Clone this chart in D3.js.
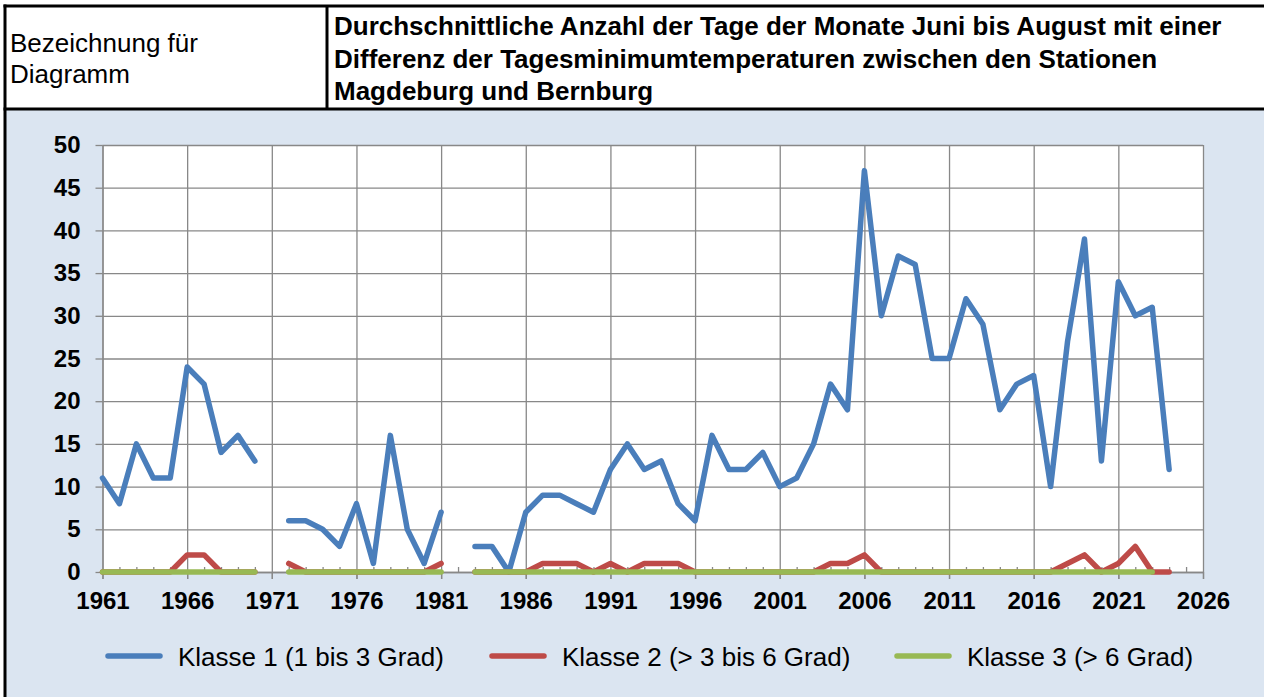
<!DOCTYPE html>
<html><head><meta charset="utf-8">
<script src="https://cdn.jsdelivr.net/npm/d3@7"></script>
<style>
body{margin:0;background:#fff;overflow:hidden}
svg{display:block;font-family:"Liberation Sans",Arial,sans-serif}
</style>
</head><body><svg id="c" width="1264" height="697"></svg>
<script>
const years = [1961,1962,1963,1964,1965,1966,1967,1968,1969,1970,
  1971,1972,1973,1974,1975,1976,1977,1978,1979,1980,
  1981,1982,1983,1984,1985,1986,1987,1988,1989,1990,
  1991,1992,1993,1994,1995,1996,1997,1998,1999,2000,
  2001,2002,2003,2004,2005,2006,2007,2008,2009,2010,
  2011,2012,2013,2014,2015,2016,2017,2018,2019,2020,
  2021,2022,2023,2024];
const klasse1 = [11,8,15,11,11,24,22,14,16,13,
  null,6,6,5,3,8,1,16,5,1,
  7,null,3,3,0,7,9,9,8,7,
  12,15,12,13,8,6,16,12,12,14,
  10,11,15,22,19,47,30,37,36,25,
  25,32,29,19,22,23,10,27,39,13,
  34,30,31,12];
const klasse2 = [0,0,0,0,0,2,2,0,0,0,
  null,1,0,0,0,0,0,0,0,0,
  1,null,0,0,0,0,1,1,1,0,
  1,0,1,1,1,0,0,0,0,0,
  0,0,0,1,1,2,0,0,0,0,
  0,0,0,0,0,0,0,1,2,0,
  1,3,0,0];
const klasse3 = [0,0,0,0,0,0,0,0,0,0,
  null,0,0,0,0,0,0,0,0,0,
  0,null,0,0,0,0,0,0,0,0,
  0,0,0,0,0,0,0,0,0,0,
  0,0,0,0,0,0,0,0,0,0,
  0,0,0,0,0,0,0,0,0,0,
  0,0,0,null];
const xTickValues = [1961,1966,1971,1976,1981,1986,1991,1996,2001,2006,2011,2016,2021,2026];
const yTickValues = [0,5,10,15,20,25,30,35,40,45,50];
const seriesNames = ["Klasse 1 (1 bis 3 Grad)","Klasse 2 (> 3 bis 6 Grad)","Klasse 3 (> 6 Grad)"];
const seriesColors = ["#4a7ebb","#be4b48","#98b954"];
const headerLabel = ["Bezeichnung für","Diagramm"];
const titleLines = ["Durchschnittliche Anzahl der Tage der Monate Juni bis August mit einer",
  "Differenz der Tagesminimumtemperaturen zwischen den Stationen",
  "Magdeburg und Bernburg"];

const svg = d3.select("#c");
const W = 1264, H = 697;

// backgrounds
svg.append("rect").attr("x",0).attr("y",0).attr("width",W).attr("height",H).attr("fill","#fff");
svg.append("rect").attr("x",5).attr("y",109).attr("width",W-5).attr("height",H-109).attr("fill","#dbe5f1");

// header borders
const bc = "#000";
svg.append("line").attr("x1",3.5).attr("x2",W).attr("y1",6).attr("y2",6).attr("stroke",bc).attr("stroke-width",3);
svg.append("line").attr("x1",5).attr("x2",5).attr("y1",4.5).attr("y2",H).attr("stroke",bc).attr("stroke-width",3);
svg.append("line").attr("x1",3.5).attr("x2",W).attr("y1",109).attr("y2",109).attr("stroke",bc).attr("stroke-width",3);
svg.append("line").attr("x1",327).attr("x2",327).attr("y1",6).attr("y2",109).attr("stroke",bc).attr("stroke-width",3);

svg.append("g").selectAll("text").data(headerLabel).join("text")
  .attr("x",10).attr("y",(d,i)=>52+i*31)
  .attr("font-size",26).attr("fill","#000").text(d=>d);
svg.append("g").selectAll("text").data(titleLines).join("text")
  .attr("x",334).attr("y",(d,i)=>35+i*32.5)
  .attr("font-size",26).attr("font-weight","bold").attr("fill","#000").text(d=>d);

// scales
const x = d3.scaleLinear().domain([1961,2026]).range([102.5,1203]);
const y = d3.scaleLinear().domain([0,50]).range([572,145]);
const gridColor = "#888";

const plot = svg.append("g");
plot.append("rect").attr("x",x(1961)).attr("y",y(50)).attr("width",x(2026)-x(1961)).attr("height",y(0)-y(50)).attr("fill","#fff");

// horizontal grid
const yGrid = plot.append("g").attr("transform",`translate(${x(1961)},0)`)
  .call(d3.axisLeft(y).tickValues(yTickValues).tickSize(-(x(2026)-x(1961))).tickFormat(""));
yGrid.select(".domain").remove();
yGrid.selectAll("line").attr("stroke",gridColor).attr("stroke-width",1.3);

// vertical grid (extending below axis as major ticks)
const xGrid = plot.append("g").attr("transform",`translate(0,${y(0)+7})`)
  .call(d3.axisBottom(x).tickValues(xTickValues).tickSize(-(y(0)-y(50)+7)).tickFormat(""));
xGrid.select(".domain").remove();
xGrid.selectAll("line").attr("stroke",gridColor).attr("stroke-width",1.3);

// minor ticks (inside, each year)
const minorYears = d3.range(1961,2027).filter(v=>!xTickValues.includes(v));
const xMinor = plot.append("g").attr("transform",`translate(0,${y(0)})`)
  .call(d3.axisTop(x).tickValues(minorYears).tickSize(5).tickFormat(""));
xMinor.select(".domain").remove();
xMinor.selectAll("line").attr("stroke",gridColor).attr("stroke-width",1.3);

// y axis
const yAxis = plot.append("g").attr("transform",`translate(${x(1961)},0)`)
  .call(d3.axisLeft(y).tickValues(yTickValues).tickSize(7).tickSizeOuter(0).tickPadding(15));
yAxis.select(".domain").attr("stroke",gridColor).attr("stroke-width",1.3);
yAxis.selectAll("line").attr("stroke",gridColor).attr("stroke-width",1.3);
yAxis.selectAll("text").attr("font-size",24).attr("font-weight","bold").attr("fill","#000")
  .attr("font-family","'Liberation Sans',Arial,sans-serif");

// x axis
const xAxis = plot.append("g").attr("transform",`translate(0,${y(0)})`)
  .call(d3.axisBottom(x).tickValues(xTickValues).tickSize(7).tickSizeOuter(0).tickPadding(13).tickFormat(d3.format("d")));
xAxis.select(".domain").attr("stroke",gridColor).attr("stroke-width",1.3);
xAxis.selectAll("line").attr("stroke",gridColor).attr("stroke-width",1.3);
xAxis.selectAll("text").attr("font-size",24).attr("font-weight","bold").attr("fill","#000")
  .attr("font-family","'Liberation Sans',Arial,sans-serif");

// series
const allSeries = [klasse1,klasse2,klasse3];
const line = d3.line().defined(d=>d.v!=null).x(d=>x(d.year)).y(d=>y(d.v));
allSeries.forEach((vals,i)=>{
  const data = years.map((yr,j)=>({year:yr,v:vals[j]}));
  plot.append("path").datum(data).attr("d",line)
    .attr("fill","none").attr("stroke",seriesColors[i]).attr("stroke-width",5.5)
    .attr("stroke-linejoin","round").attr("stroke-linecap","round");
});

// legend
const legendX = [108,492,897];
const lg = svg.append("g").selectAll("g").data(seriesNames).join("g")
  .attr("transform",(d,i)=>`translate(${legendX[i]},656)`);
lg.append("line").attr("x1",0).attr("x2",52).attr("y1",0).attr("y2",0)
  .attr("stroke",(d,i)=>seriesColors[i]).attr("stroke-width",5.5).attr("stroke-linecap","round");
lg.append("text").attr("x",70).attr("y",9.5).attr("font-size",26).attr("fill","#000").text(d=>d);
</script>
</body></html>
